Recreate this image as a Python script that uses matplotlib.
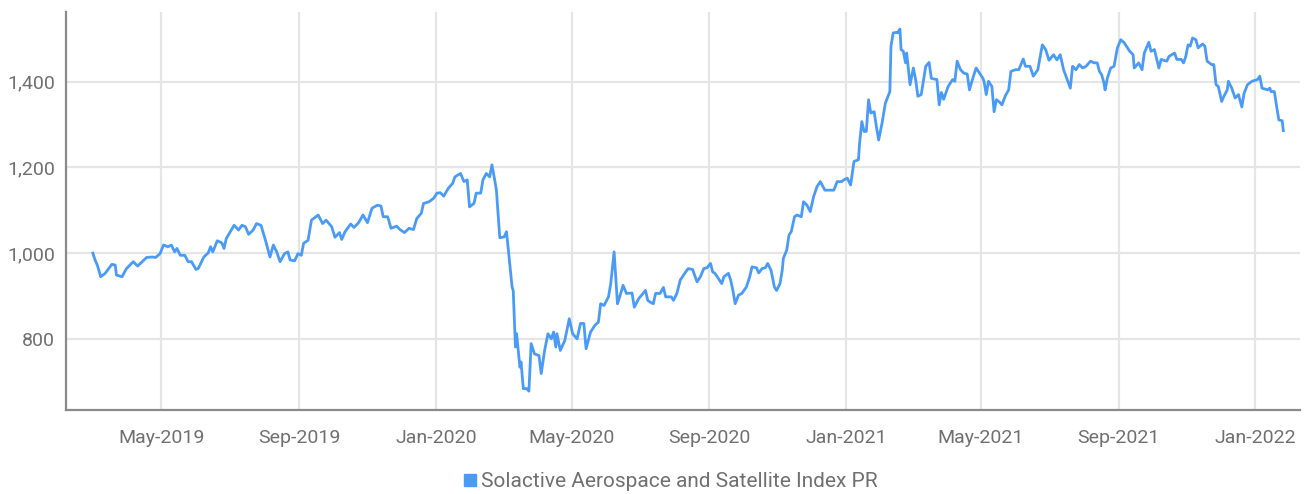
import matplotlib
matplotlib.use("Agg")
import matplotlib.pyplot as plt
import matplotlib.dates as mdates
from matplotlib.lines import Line2D
from matplotlib.ticker import FuncFormatter
import pandas as pd

# Lecturas del indice, por año
fechas_2019 = [
    "2019-03-01", "2019-03-03", "2019-03-05", "2019-03-08", "2019-03-12", "2019-03-18",
    "2019-03-21", "2019-03-22", "2019-03-27", "2019-03-31", "2019-04-06", "2019-04-10",
    "2019-04-14", "2019-04-18", "2019-04-23", "2019-04-26", "2019-04-30", "2019-05-03",
    "2019-05-07", "2019-05-10", "2019-05-13", "2019-05-15", "2019-05-18", "2019-05-22",
    "2019-05-25", "2019-05-28", "2019-06-01", "2019-06-03", "2019-06-08", "2019-06-12",
    "2019-06-14", "2019-06-16", "2019-06-20", "2019-06-24", "2019-06-26", "2019-06-28",
    "2019-07-05", "2019-07-09", "2019-07-12", "2019-07-15", "2019-07-18", "2019-07-22",
    "2019-07-25", "2019-07-29", "2019-08-02", "2019-08-06", "2019-08-09", "2019-08-12",
    "2019-08-15", "2019-08-19", "2019-08-22", "2019-08-24", "2019-08-28", "2019-08-31",
    "2019-09-03", "2019-09-05", "2019-09-09", "2019-09-12", "2019-09-18", "2019-09-22",
    "2019-09-25", "2019-09-30", "2019-10-03", "2019-10-07", "2019-10-09", "2019-10-12",
    "2019-10-17", "2019-10-20", "2019-10-24", "2019-10-28", "2019-11-01", "2019-11-05",
    "2019-11-10", "2019-11-13", "2019-11-15", "2019-11-19", "2019-11-22", "2019-11-27",
    "2019-11-30", "2019-12-04", "2019-12-08", "2019-12-12", "2019-12-15", "2019-12-19",
    "2019-12-21", "2019-12-26", "2019-12-30",
]
valores_2019 = [
    1000, 984, 972, 945, 953, 974, 972, 949, 945, 964, 980, 970,
    980, 990, 991, 990, 999, 1019, 1015, 1019, 1003, 1011, 995, 995,
    980, 980, 962, 964, 991, 1001, 1015, 1003, 1029, 1024, 1011, 1034,
    1065, 1054, 1065, 1062, 1044, 1054, 1069, 1065, 1030, 991, 1019, 1003,
    980, 999, 1003, 984, 982, 999, 995, 1023, 1030, 1077, 1089, 1069,
    1077, 1062, 1037, 1048, 1032, 1050, 1068, 1060, 1071, 1089, 1071, 1105,
    1112, 1110, 1085, 1085, 1058, 1063, 1055, 1048, 1058, 1055, 1081, 1093,
    1116, 1120, 1128,
]

fechas_2020 = [
    "2020-01-02", "2020-01-05", "2020-01-08", "2020-01-12", "2020-01-16", "2020-01-18",
    "2020-01-23", "2020-01-26", "2020-01-29", "2020-01-31", "2020-02-04", "2020-02-06",
    "2020-02-10", "2020-02-12", "2020-02-15", "2020-02-18", "2020-02-20", "2020-02-22",
    "2020-02-24", "2020-02-27", "2020-03-02", "2020-03-04", "2020-03-06", "2020-03-09",
    "2020-03-10", "2020-03-12", "2020-03-13", "2020-03-16", "2020-03-17", "2020-03-19",
    "2020-03-22", "2020-03-24", "2020-03-26", "2020-03-29", "2020-04-02", "2020-04-04",
    "2020-04-07", "2020-04-10", "2020-04-13", "2020-04-15", "2020-04-17", "2020-04-18",
    "2020-04-21", "2020-04-25", "2020-04-29", "2020-05-02", "2020-05-06", "2020-05-09",
    "2020-05-12", "2020-05-14", "2020-05-18", "2020-05-22", "2020-05-25", "2020-05-27",
    "2020-05-30", "2020-06-03", "2020-06-05", "2020-06-08", "2020-06-11", "2020-06-13",
    "2020-06-16", "2020-06-19", "2020-06-24", "2020-06-26", "2020-06-30", "2020-07-06",
    "2020-07-08", "2020-07-10", "2020-07-13", "2020-07-15", "2020-07-19", "2020-07-22",
    "2020-07-24", "2020-07-29", "2020-07-31", "2020-08-03", "2020-08-06", "2020-08-09",
    "2020-08-13", "2020-08-17", "2020-08-21", "2020-08-24", "2020-08-27", "2020-08-30",
    "2020-09-02", "2020-09-04", "2020-09-06", "2020-09-09", "2020-09-12", "2020-09-14",
    "2020-09-18", "2020-09-20", "2020-09-22", "2020-09-24", "2020-09-27", "2020-09-30",
    "2020-10-04", "2020-10-07", "2020-10-09", "2020-10-13", "2020-10-15", "2020-10-18",
    "2020-10-21", "2020-10-23", "2020-10-26", "2020-10-29", "2020-10-31", "2020-11-03",
    "2020-11-05", "2020-11-06", "2020-11-09", "2020-11-11", "2020-11-13", "2020-11-16",
    "2020-11-18", "2020-11-22", "2020-11-24", "2020-11-27", "2020-11-30", "2020-12-03",
    "2020-12-06", "2020-12-09", "2020-12-13", "2020-12-18", "2020-12-21", "2020-12-24",
    "2020-12-28", "2020-12-30",
]
valores_2020 = [
    1140, 1141, 1133, 1151, 1163, 1178, 1186, 1167, 1171, 1108, 1116, 1140,
    1140, 1171, 1186, 1178, 1206, 1178, 1147, 1036, 1038, 1050, 999, 921,
    913, 781, 812, 734, 746, 684, 684, 678, 789, 765, 761, 719,
    773, 812, 800, 816, 781, 812, 773, 796, 847, 812, 800, 836,
    836, 777, 816, 832, 839, 882, 878, 898, 929, 1003, 882, 898,
    925, 906, 907, 874, 894, 913, 890, 886, 882, 906, 906, 920,
    898, 898, 890, 906, 937, 949, 964, 962, 933, 945, 964, 966,
    976, 956, 953, 941, 929, 945, 953, 937, 913, 882, 902, 906,
    921, 945, 968, 966, 954, 964, 966, 976, 960, 921, 913, 929,
    960, 988, 1007, 1042, 1050, 1085, 1089, 1085, 1120, 1112, 1097, 1132,
    1155, 1167, 1147, 1147, 1147, 1167, 1167, 1171,
]

fechas_2021 = [
    "2021-01-02", "2021-01-05", "2021-01-08", "2021-01-12", "2021-01-13", "2021-01-15",
    "2021-01-17", "2021-01-19", "2021-01-21", "2021-01-23", "2021-01-26", "2021-01-28",
    "2021-01-30", "2021-02-02", "2021-02-05", "2021-02-09", "2021-02-10", "2021-02-12",
    "2021-02-15", "2021-02-16", "2021-02-18", "2021-02-19", "2021-02-21", "2021-02-23",
    "2021-02-24", "2021-02-27", "2021-03-02", "2021-03-04", "2021-03-06", "2021-03-09",
    "2021-03-13", "2021-03-16", "2021-03-18", "2021-03-21", "2021-03-23", "2021-03-25",
    "2021-03-27", "2021-03-29", "2021-04-02", "2021-04-06", "2021-04-08", "2021-04-10",
    "2021-04-13", "2021-04-16", "2021-04-19", "2021-04-21", "2021-04-24", "2021-04-27",
    "2021-04-30", "2021-05-03", "2021-05-04", "2021-05-06", "2021-05-08", "2021-05-11",
    "2021-05-13", "2021-05-15", "2021-05-18", "2021-05-20", "2021-05-23", "2021-05-26",
    "2021-05-28", "2021-06-01", "2021-06-04", "2021-06-08", "2021-06-10", "2021-06-14",
    "2021-06-17", "2021-06-21", "2021-06-25", "2021-06-28", "2021-07-01", "2021-07-05",
    "2021-07-08", "2021-07-11", "2021-07-14", "2021-07-20", "2021-07-22", "2021-07-25",
    "2021-07-28", "2021-07-31", "2021-08-03", "2021-08-07", "2021-08-10", "2021-08-13",
    "2021-08-15", "2021-08-17", "2021-08-19", "2021-08-20", "2021-08-22", "2021-08-25",
    "2021-08-28", "2021-08-31", "2021-09-03", "2021-09-06", "2021-09-11", "2021-09-14",
    "2021-09-15", "2021-09-19", "2021-09-22", "2021-09-24", "2021-09-28", "2021-09-30",
    "2021-10-03", "2021-10-07", "2021-10-09", "2021-10-14", "2021-10-16", "2021-10-21",
    "2021-10-23", "2021-10-27", "2021-10-29", "2021-10-31", "2021-11-02", "2021-11-04",
    "2021-11-06", "2021-11-09", "2021-11-11", "2021-11-15", "2021-11-17", "2021-11-19",
    "2021-11-23", "2021-11-25", "2021-11-27", "2021-11-29", "2021-12-02", "2021-12-04",
    "2021-12-07", "2021-12-08", "2021-12-11", "2021-12-14", "2021-12-17", "2021-12-20",
    "2021-12-22", "2021-12-25", "2021-12-29",
]
valores_2021 = [
    1175, 1159, 1214, 1218, 1257, 1307, 1284, 1284, 1358, 1327, 1330, 1295,
    1264, 1303, 1350, 1377, 1483, 1514, 1515, 1514, 1523, 1475, 1471, 1444,
    1467, 1393, 1432, 1405, 1366, 1370, 1436, 1445, 1408, 1406, 1405, 1346,
    1375, 1359, 1389, 1405, 1401, 1448, 1428, 1420, 1418, 1381, 1408, 1432,
    1420, 1408, 1401, 1370, 1401, 1389, 1330, 1358, 1352, 1346, 1367, 1381,
    1424, 1428, 1428, 1453, 1436, 1436, 1413, 1428, 1486, 1475, 1450, 1463,
    1451, 1463, 1428, 1385, 1436, 1428, 1440, 1432, 1436, 1448, 1444, 1444,
    1424, 1416, 1397, 1381, 1408, 1432, 1436, 1479, 1498, 1491, 1471, 1463,
    1432, 1444, 1428, 1467, 1492, 1471, 1475, 1432, 1452, 1448, 1459, 1467,
    1452, 1452, 1444, 1459, 1486, 1483, 1502, 1498, 1479, 1488, 1483, 1448,
    1440, 1440, 1393, 1389, 1354, 1366, 1381, 1401, 1385, 1362, 1370, 1341,
    1373, 1393, 1401,
]

fechas_2022 = [
    "2022-01-03", "2022-01-05", "2022-01-07", "2022-01-12", "2022-01-14", "2022-01-15",
    "2022-01-18", "2022-01-20", "2022-01-22", "2022-01-25", "2022-01-26",
]
valores_2022 = [1405, 1413, 1385, 1381, 1385, 1377, 1377, 1343, 1311, 1309, 1286]

nombre_serie = "Solactive Aerospace and Satellite Index PR"
y_ticks = [800, 1000, 1200, 1400]

fechas = pd.to_datetime(fechas_2019 + fechas_2020 + fechas_2021 + fechas_2022)
valores = valores_2019 + valores_2020 + valores_2021 + valores_2022

azul = "#4A9BF7"
gris_texto = "#707070"
fuente = ["Roboto", "DejaVu Sans"]

fig = plt.figure(figsize=(13.06, 4.94), dpi=100)
ax = fig.add_axes([0.0505, 0.170, 0.945, 0.806])

ax.plot(fechas, valores, color=azul, linewidth=2.0, zorder=3)

ax.set_ylim(634, 1563)
ax.set_xlim(pd.Timestamp("2019-02-05"), pd.Timestamp("2022-02-10"))
ax.set_yticks(y_ticks)
ax.yaxis.set_major_formatter(FuncFormatter(lambda v, p: f"{int(v):,}"))
ax.xaxis.set_major_locator(mdates.MonthLocator(bymonth=[1, 5, 9]))
ax.xaxis.set_major_formatter(mdates.DateFormatter("%b-%Y"))

ax.grid(True, color="#e5e5e5", linewidth=1.6, zorder=0)
ax.set_axisbelow(True)
for lado in ["top", "right"]:
    ax.spines[lado].set_visible(False)
for lado in ["left", "bottom"]:
    ax.spines[lado].set_color("#8a8a8a")
    ax.spines[lado].set_linewidth(1.6)

ax.tick_params(axis="both", length=0, labelcolor=gris_texto, labelsize=14)
ax.tick_params(axis="x", pad=14)
ax.tick_params(axis="y", pad=8)
for etiqueta in ax.get_xticklabels() + ax.get_yticklabels():
    etiqueta.set_family(fuente)

marca = Line2D([], [], marker="s", color=azul, linestyle="none", markersize=9)
fig.legend([marca], [nombre_serie], loc="center", bbox_to_anchor=(0.512, 0.025),
           frameon=False, handletextpad=0.0, handlelength=1.0,
           prop={"family": fuente, "size": 15}, labelcolor=gris_texto)

fig.savefig("out.png", dpi=100)
